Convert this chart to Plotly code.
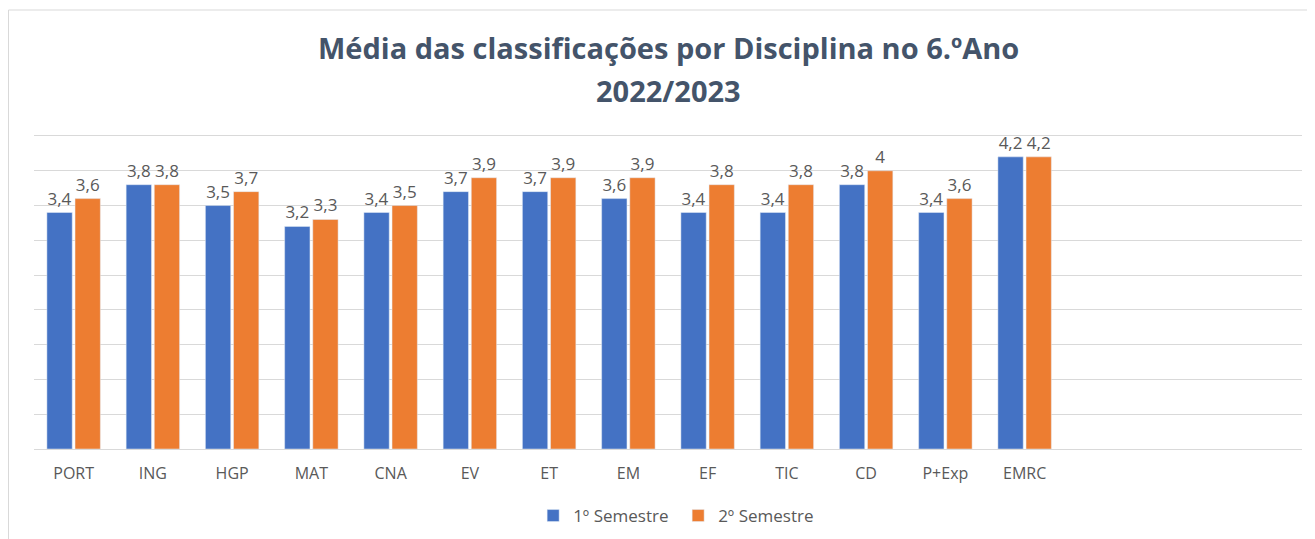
import plotly.graph_objects as go

disciplinas = ["PORT", "ING", "HGP", "MAT", "CNA", "EV", "ET", "EM", "EF", "TIC", "CD", "P+Exp", "EMRC"]
sem1 = [3.4, 3.8, 3.5, 3.2, 3.4, 3.7, 3.7, 3.6, 3.4, 3.4, 3.8, 3.4, 4.2]
sem2 = [3.6, 3.8, 3.7, 3.3, 3.5, 3.9, 3.9, 3.9, 3.8, 3.8, 4.0, 3.6, 4.2]

# page body has an 8px margin, so the figure is sized to fit the window
W, H = 1307, 531
ml, mr, mt, mb = 26, 13, 128, 90
pw, ph = W - ml - mr, H - mt - mb


def py(px_from_top):
    # pixel from figure top -> paper y
    return (H - mb - px_from_top) / ph


def lbl(v):
    return f"{v:g}".replace(".", ",")


fig = go.Figure()
fig.add_trace(go.Bar(x=disciplinas, y=sem1, name="1º Semestre", marker_color="#4472C4",
                     text=[lbl(v) for v in sem1], textposition="outside", cliponaxis=False))
fig.add_trace(go.Bar(x=disciplinas, y=sem2, name="2º Semestre", marker_color="#ED7D31",
                     text=[lbl(v) for v in sem2], textposition="outside", cliponaxis=False))

fig.update_traces(textfont=dict(size=17, color="#595959"))

# chart border
fig.add_shape(type="rect", xref="paper", yref="paper",
              x0=(0.5 - ml) / pw, x1=(W - 0.5 - ml) / pw,
              y0=py(H + 5), y1=py(2),
              line=dict(color="#D9D9D9", width=1))

title_font = dict(family="Open Sans, sans-serif", size=29, color="#44546A")
fig.add_annotation(text="<b>Média das classificações por Disciplina no 6.ºAno</b>",
                   xref="paper", yref="paper", x=0.5, y=py(40), xanchor="center", yanchor="middle",
                   showarrow=False, font=title_font)
fig.add_annotation(text="<b>2022/2023</b>",
                   xref="paper", yref="paper", x=0.5, y=py(82), xanchor="center", yanchor="middle",
                   showarrow=False, font=title_font)

fig.update_layout(
    width=W, height=H,
    margin=dict(l=ml, r=mr, t=mt, b=mb, autoexpand=False),
    paper_bgcolor="white", plot_bgcolor="white",
    font=dict(family="Open Sans, sans-serif", color="#595959"),
    barmode="group", bargap=0.29, bargroupgap=0.1,
    showlegend=True,
    legend=dict(orientation="h", x=0.508, xanchor="center", y=py(508), yanchor="middle",
                font=dict(size=17, color="#595959"), traceorder="normal",
                entrywidth=100, itemwidth=30),
    xaxis=dict(range=[-0.5, 15.5], showgrid=False, showline=True, mirror=True, linecolor="#D9D9D9",
               tickfont=dict(size=16, color="#595959"), ticks="", ticklabelstandoff=10,
               automargin=False),
    yaxis=dict(range=[0, 4.5], dtick=0.5, showgrid=True, gridcolor="#D9D9D9",
               showticklabels=False, zeroline=False, automargin=False),
)

fig.write_html("out.html")
